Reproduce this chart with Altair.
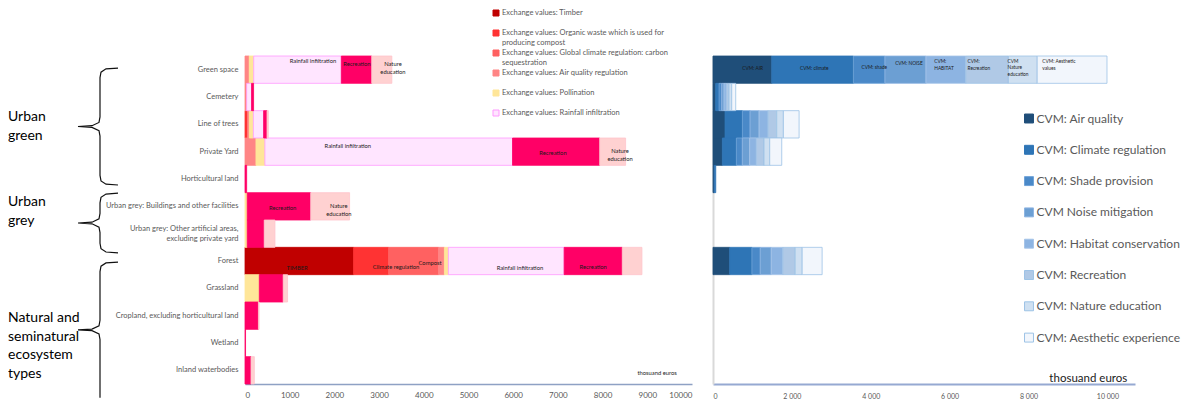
import altair as alt
import pandas as pd

categories = [
    "Green space", "Cemetery", "Line of trees", "Private Yard", "Horticultural land",
    "Urban grey: Buildings and other facilities",
    "Urban grey: Other artificial areas, excluding private yard",
    "Forest", "Grassland", "Cropland, excluding horticultural land", "Wetland", "Inland waterbodies",
]

# ---- left panel: exchange values (thousand euros)
left_series = [
    "Exchange values: Timber",
    "Exchange values: Organic waste which is used for producing compost",
    "Exchange values: Global climate regulation: carbon sequestration",
    "Exchange values: Air quality regulation",
    "Exchange values: Pollination",
    "Exchange values: Rainfall infiltration",
    "Recreation",
    "Nature education",
]
left_colors = ["#C00000", "#FF3333", "#FF6161", "#FF8585", "#FFE699", "#FFE5FF", "#FF0066", "#FFD1D1"]
left_strokes = ["#C00000", "#FF3333", "#FF6161", "#FF8585", "#FFE699", "#FF99FF", "#FF0066", "#FFC4CC"]

timber = [0, 0, 0, 0, 0, 0, 0, 2430, 0, 0, 0, 0]
compost = [0, 0, 60, 0, 0, 0, 0, 780, 0, 0, 0, 0]
climate = [0, 0, 0, 0, 0, 0, 0, 1120, 0, 0, 0, 0]
air_quality = [95, 37, 37, 245, 0, 0, 0, 130, 0, 0, 0, 0]
pollination = [100, 0, 90, 200, 0, 50, 50, 90, 320, 0, 0, 0]
rainfall = [1960, 110, 230, 5540, 0, 0, 0, 2590, 0, 0, 0, 0]
recreation = [680, 45, 75, 1950, 37, 1420, 380, 1300, 535, 300, 12, 134]
nature_education = [450, 0, 30, 580, 0, 870, 240, 440, 97, 15, 0, 75]
left_values = [timber, compost, climate, air_quality, pollination, rainfall, recreation, nature_education]

legend_left_labels = [
    "Exchange values: Timber",
    "Exchange values: Organic waste which is used for\nproducing compost",
    "Exchange values: Global climate regulation: carbon\nsequestration",
    "Exchange values: Air quality regulation",
    "Exchange values: Pollination",
    "Exchange values: Rainfall infiltration",
]

ann_left_text = ["Rainfall infiltration", "Recreation", "Nature\neducation",
                 "Rainfall infiltration", "Recreation", "Nature\neducation",
                 "Recreation", "Nature\neducation",
                 "TIMBER", "Climate regulation", "Compost", "Rainfall infiltration", "Recreation",
                 "thosuand euros"]
ann_left_x = [1520, 2505, 3310, 2300, 6890, 8390, 843, 2100, 1165, 3380, 4140, 6150, 7790, 9220]
ann_left_row = [0.18, 0.29, 0.30, 3.29, 3.56, 3.47, 5.55, 5.49, 7.75, 7.72, 7.58, 7.75, 7.72, 11.61]

# ---- right panel: CVM values (thousand euros)
right_series = [
    "CVM: Air quality", "CVM: Climate regulation", "CVM: Shade provision", "CVM Noise mitigation",
    "CVM: Habitat conservation", "CVM: Recreation", "CVM: Nature education", "CVM: Aesthetic experience",
]
right_colors = ["#1F4E79", "#2E75B6", "#4A89C8", "#6C9FD3", "#8DB4E2", "#B0C9E6", "#CFE0F1", "#F2F6FC"]
right_strokes = ["#1F4E79", "#2E75B6", "#6FA3D8", "#8DB4E2", "#A6C4E8", "#9DC3E6", "#9DC3E6", "#9DC3E6"]

cvm_air = [1490, 68, 305, 237, 30, 0, 0, 422, 0, 0, 0, 0]
cvm_climate = [2070, 85, 440, 355, 40, 0, 0, 565, 0, 0, 0, 0]
cvm_shade = [800, 68, 195, 152, 0, 0, 0, 211, 0, 0, 0, 0]
cvm_noise = [1040, 59, 228, 186, 0, 0, 0, 279, 0, 0, 0, 0]
cvm_habitat = [1010, 59, 228, 169, 0, 0, 0, 295, 0, 0, 0, 0]
cvm_recreation = [1080, 68, 220, 195, 0, 0, 0, 312, 0, 0, 0, 0]
cvm_nature = [730, 68, 169, 144, 0, 0, 0, 177, 0, 0, 0, 0]
cvm_aesthetic = [1770, 101, 398, 305, 0, 0, 0, 506, 0, 0, 0, 0]
right_values = [cvm_air, cvm_climate, cvm_shade, cvm_noise, cvm_habitat, cvm_recreation, cvm_nature, cvm_aesthetic]

ann_right_text = ["CVM: AIR", "CVM: climate", "CVM: shade", "CVM: NOISE", "CVM:\nHABITAT",
                  "CVM:\nRecreation", "CVM\nNature\neducation", "CVM: Aesthetic\nvalues"]
ann_right_x = [744, 2208, 3764, 4619, 5609, 6454, 7470, 8350]
ann_right_row = [0.49, 0.49, 0.43, 0.28, 0.22, 0.22, 0.21, 0.22]

# ---- group labels & braces (row units, 0 = top of first row)
group_labels = ["Urban\ngreen", "Urban\ngrey", "Natural and\nseminatural\necosystem\ntypes"]
group_label_row = [2.23, 5.34, 9.59]
brace_top = [0.44, 5.02, 7.54]
brace_bottom = [4.72, 7.2, 12.5]
brace_open_bottom = [False, False, True]

W_L, W_R, H = 447, 422, 328
FONT = "Lato"


def long_df(series, values):
    rows = []
    for si, (s, vals) in enumerate(zip(series, values)):
        for c, v in zip(categories, vals):
            if v > 0:
                rows.append({"category": c, "series": s, "idx": si, "value": v})
    return pd.DataFrame(rows)


df_l = long_df(left_series, left_values)
df_r = long_df(right_series, right_values)

brace_rows = []
for g, (t, b, ob) in enumerate(zip(brace_top, brace_bottom, brace_open_bottom)):
    m = (t + b) / 2
    pts = [(40, t), (28, t + 0.03), (23, t + 0.15), (22, t + 0.35), (22, m - 0.35), (21, m - 0.15),
           (14, m - 0.03), (0, m), (14, m + 0.03), (21, m + 0.15), (22, m + 0.35)]
    if ob:
        pts += [(22, b)]
    else:
        pts += [(22, b - 0.35), (23, b - 0.15), (28, b - 0.03), (40, b)]
    for k, (xx, yy) in enumerate(pts):
        brace_rows.append({"g": g, "k": k, "bx": xx, "by": yy})
df_brace = pd.DataFrame(brace_rows)

row_scale = alt.Scale(domain=[0, 12], range=[0, H], nice=False, zero=False)
cat_scale = alt.Scale(domain=categories, paddingInner=0, paddingOuter=0)

# ================= LEFT =================
two_line = "Urban grey: Other artificial areas, excluding private yard"
multi = ("datum.label == '" + two_line + "' ? "
         "['Urban grey: Other artificial areas,', 'excluding private yard'] : datum.label")

bars_l = alt.Chart(df_l).mark_bar(strokeWidth=0.8).encode(
    x=alt.X("value:Q", stack="zero", scale=alt.Scale(domain=[0, 10000], nice=False),
            axis=alt.Axis(values=list(range(0, 10001, 1000)), format="d", title=None, ticks=False,
                          grid=False, domainColor="#8EA1C4", domainWidth=1.5, labelFontSize=8,
                          labelColor="#595959", labelFont=FONT, labelPadding=7)),
    y=alt.Y("category:N", sort=categories, scale=cat_scale,
            axis=alt.Axis(title=None, ticks=False, domain=False, labelFontSize=7.5, labelColor="#595959",
                          labelFont=FONT, labelPadding=7, labelLimit=300, labelExpr=multi,
                          labelLineHeight=10,
                          labelOffset={"condition": {"test": "datum.value == '" + two_line + "'",
                                                     "value": -5}, "value": 0})),
    color=alt.Color("series:N", scale=alt.Scale(domain=left_series, range=left_colors), legend=None),
    stroke=alt.Stroke("series:N", scale=alt.Scale(domain=left_series, range=left_strokes), legend=None),
    order=alt.Order("idx:Q"),
)

ann_l = alt.Chart(pd.DataFrame({"t": ann_left_text, "ax": ann_left_x, "ay": ann_left_row})).mark_text(
    fontSize=5.8, font=FONT, color="#1a1a1a", align="center", baseline="middle", lineBreak="\n", lineHeight=8
).encode(
    x=alt.X("ax:Q", scale=alt.Scale(domain=[0, 10000], nice=False), axis=None),
    y=alt.Y("ay:Q", scale=row_scale, axis=None),
    text="t:N",
)

grp = alt.Chart(pd.DataFrame({"t": group_labels, "gy": group_label_row})).mark_text(
    fontSize=14, font=FONT, color="#000000", align="left", baseline="middle", lineBreak="\n", lineHeight=18.6
).encode(
    x=alt.value(-237),
    y=alt.Y("gy:Q", scale=row_scale, axis=None),
    text="t:N",
)

braces = alt.Chart(df_brace).mark_line(color="#111111", strokeWidth=1.2).encode(
    x=alt.X("bx:Q", scale=alt.Scale(domain=[0, 40], range=[-167, -127], nice=False, zero=False), axis=None),
    y=alt.Y("by:Q", scale=row_scale, axis=None),
    detail="g:N",
    order="k:Q",
)

leg_df = pd.DataFrame({"series": left_series[:6], "lab": legend_left_labels, "li": list(range(6))})
leg_scale = alt.Scale(domain=[0, 5], range=[-43, 57], nice=False, zero=False)
leg_sq = alt.Chart(leg_df).mark_square(size=36, strokeWidth=1, opacity=1).encode(
    x=alt.value(251),
    y=alt.Y("li:Q", scale=leg_scale, axis=None),
    color=alt.Color("series:N", scale=alt.Scale(domain=left_series, range=left_colors), legend=None),
    stroke=alt.Stroke("series:N", scale=alt.Scale(domain=left_series, range=left_strokes), legend=None),
)
leg_tx = alt.Chart(leg_df).mark_text(
    fontSize=7.5, font=FONT, color="#595959", align="left", baseline="top", dy=-4.5,
    lineBreak="\n", lineHeight=10
).encode(
    x=alt.value(257),
    y=alt.Y("li:Q", scale=leg_scale, axis=None),
    text="lab:N",
)

left = alt.layer(bars_l, ann_l, grp, braces, leg_sq, leg_tx).resolve_scale(
    x="independent", y="independent"
).properties(width=W_L, height=H)

# ================= RIGHT =================
leg_r = alt.Legend(title=None, orient="none", legendX=310, legendY=56.5, direction="vertical",
                   symbolType="square", symbolSize=80, symbolStrokeWidth=1, labelFontSize=12,
                   labelColor="#595959", labelFont=FONT, rowPadding=17.3, padding=0, labelOffset=1.5,
                   labelLimit=300)

bars_r = alt.Chart(df_r).mark_bar(strokeWidth=0.8).encode(
    x=alt.X("value:Q", stack="zero", scale=alt.Scale(domain=[0, 10700], nice=False),
            axis=alt.Axis(values=list(range(0, 10001, 2000)), title=None, ticks=False, grid=False,
                          labelExpr="replace(format(datum.value, ','), ',', ' ')",
                          domainColor="#96A9D2", domainWidth=2, labelFontSize=7, labelColor="#595959",
                          labelFont=FONT, labelPadding=8)),
    y=alt.Y("category:N", sort=categories, scale=cat_scale,
            axis=alt.Axis(title=None, ticks=False, labels=False, domain=True, domainColor="#D9D9D9",
                          domainWidth=2)),
    color=alt.Color("series:N", scale=alt.Scale(domain=right_series, range=right_colors), legend=leg_r),
    stroke=alt.Stroke("series:N", scale=alt.Scale(domain=right_series, range=right_strokes), legend=leg_r),
    order=alt.Order("idx:Q"),
)

ann_r = alt.Chart(pd.DataFrame({"t": ann_right_text, "ax": ann_right_x, "ay": ann_right_row})).mark_text(
    fontSize=4.8, font=FONT, color="#1a1a1a", align="left", baseline="middle", lineBreak="\n", lineHeight=6.5
).encode(
    x=alt.X("ax:Q"),
    y=alt.Y("ay:Q", scale=row_scale, axis=None),
    text="t:N",
)

thou_r = alt.Chart(pd.DataFrame({"t": ["thosuand euros"], "ax": [8528], "ay": [11.8]})).mark_text(
    fontSize=11.5, font=FONT, color="#1a1a1a", align="left", baseline="middle"
).encode(
    x=alt.X("ax:Q"),
    y=alt.Y("ay:Q", scale=row_scale, axis=None),
    text="t:N",
)

right = alt.layer(bars_r, ann_r, thou_r).resolve_scale(y="independent").properties(width=W_R, height=H)

chart = alt.hconcat(left, right, spacing=20).resolve_scale(
    color="independent", stroke="independent"
).resolve_legend(color="independent", stroke="independent").properties(
    padding=0, background="white"
).configure_view(stroke=None)

chart.save("out.html", embed_options={"renderer": "svg", "actions": False})
